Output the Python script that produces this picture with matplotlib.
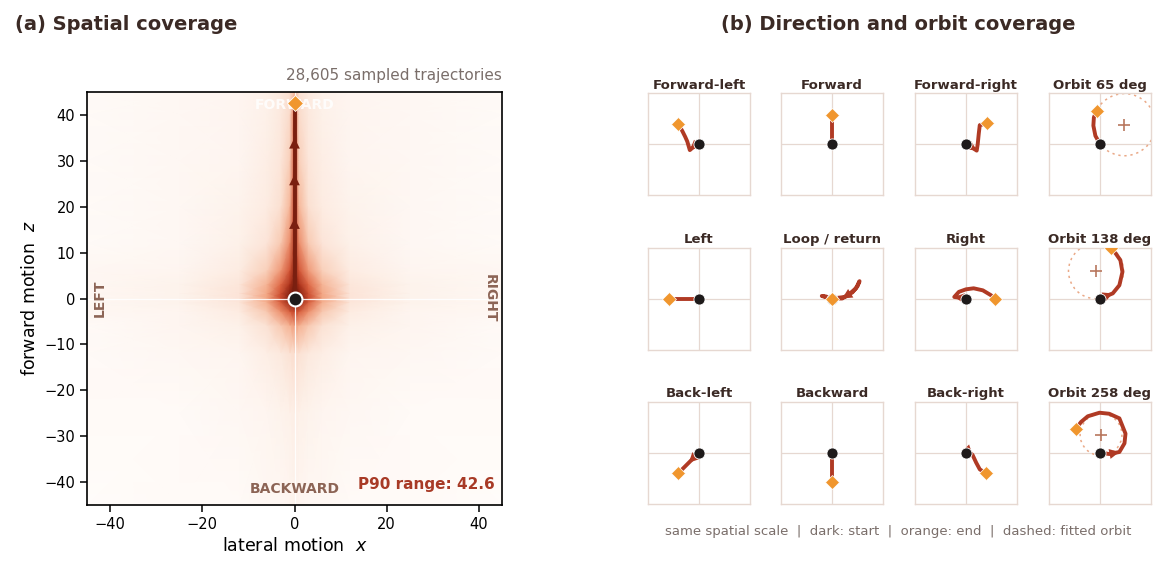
import numpy as np
import matplotlib
matplotlib.use("Agg")
import matplotlib.pyplot as plt
from matplotlib.colors import LinearSegmentedColormap
from matplotlib.patches import Circle

# --- panel (a): density of end positions (estimated intensity, 0 = empty, 1 = densest)
grid_x = [-45, -25, -12, -6, -3, -1, 0, 1, 3, 6, 12, 25, 45]
grid_z = [45, 40, 30, 20, 12, 6, 3, 1, 0, -1, -3, -6, -12, -25, -45]
density = [
    [0.01, 0.02, 0.03, 0.05, 0.08, 0.12, 0.25, 0.12, 0.08, 0.05, 0.03, 0.02, 0.01],
    [0.01, 0.02, 0.03, 0.05, 0.08, 0.14, 0.50, 0.14, 0.08, 0.05, 0.03, 0.02, 0.01],
    [0.01, 0.02, 0.03, 0.06, 0.09, 0.18, 0.62, 0.18, 0.09, 0.06, 0.03, 0.02, 0.01],
    [0.01, 0.02, 0.04, 0.07, 0.12, 0.26, 0.70, 0.26, 0.12, 0.07, 0.04, 0.02, 0.01],
    [0.01, 0.02, 0.05, 0.10, 0.20, 0.40, 0.78, 0.40, 0.20, 0.10, 0.05, 0.02, 0.01],
    [0.02, 0.03, 0.07, 0.18, 0.36, 0.60, 0.87, 0.60, 0.36, 0.18, 0.07, 0.03, 0.02],
    [0.02, 0.04, 0.09, 0.27, 0.52, 0.76, 0.93, 0.76, 0.52, 0.27, 0.09, 0.04, 0.02],
    [0.02, 0.04, 0.10, 0.31, 0.62, 0.88, 0.98, 0.88, 0.62, 0.31, 0.10, 0.04, 0.02],
    [0.02, 0.04, 0.10, 0.32, 0.64, 0.90, 1.00, 0.90, 0.64, 0.32, 0.10, 0.04, 0.02],
    [0.02, 0.04, 0.09, 0.28, 0.55, 0.80, 0.92, 0.80, 0.55, 0.28, 0.09, 0.04, 0.02],
    [0.02, 0.03, 0.07, 0.20, 0.38, 0.55, 0.66, 0.55, 0.38, 0.20, 0.07, 0.03, 0.02],
    [0.01, 0.03, 0.05, 0.11, 0.20, 0.28, 0.34, 0.28, 0.20, 0.11, 0.05, 0.03, 0.01],
    [0.01, 0.02, 0.03, 0.06, 0.08, 0.11, 0.13, 0.11, 0.08, 0.06, 0.03, 0.02, 0.01],
    [0.01, 0.01, 0.02, 0.03, 0.04, 0.05, 0.06, 0.05, 0.04, 0.03, 0.02, 0.01, 0.01],
    [0.00, 0.01, 0.01, 0.02, 0.02, 0.03, 0.04, 0.03, 0.02, 0.02, 0.01, 0.01, 0.00],
]

mean_x = [0, 0, 0, 0, 0]
mean_z = [0, 10, 20, 30, 42.6]
arrow_z = [16.5, 26, 34]
n_traj = 28605
p90_range = 42.6

# --- panel (b): representative trajectories, same scale (panel half-width = 1)
panel_titles = ["Forward-left", "Forward", "Forward-right", "Orbit 65 deg",
                "Left", "Loop / return", "Right", "Orbit 138 deg",
                "Back-left", "Backward", "Back-right", "Orbit 258 deg"]
path_x = [
    [0, -0.10, -0.18, -0.23, -0.27, -0.33, -0.405],
    [0, 0, 0, 0],
    [0, 0.12, 0.21, 0.23, 0.25, 0.27, 0.41],
    [0, -0.09, -0.13, -0.12, -0.067],
    [0, -0.3, -0.59],
    [0, -0.12, -0.2, -0.1, 0, 0.25, 0.40, 0.50, 0.54, 0.47, 0.33, 0.2, 0],
    [0, -0.15, -0.23, -0.14, 0.0, 0.15, 0.33, 0.48, 0.575],
    [0, 0.25, 0.38, 0.44, 0.40, 0.31, 0.216],
    [0, -0.2, -0.41],
    [0, 0, 0],
    [0, 0.08, 0.13, 0.20, 0.27, 0.39],
    [0, 0.18, 0.38, 0.48, 0.50, 0.38, 0.18, -0.01, -0.24, -0.37, -0.47],
]
path_y = [
    [0, -0.05, -0.12, 0.05, 0.14, 0.26, 0.39],
    [0, 0.2, 0.4, 0.57],
    [0, -0.07, -0.13, 0.0, 0.20, 0.37, 0.405],
    [0, 0.16, 0.36, 0.52, 0.656],
    [0, 0, 0],
    [0, 0.04, 0.05, 0.02, 0, 0.03, 0.12, 0.24, 0.34, 0.20, 0.08, 0.0, 0],
    [0, 0.02, 0.03, 0.13, 0.18, 0.20, 0.16, 0.07, 0],
    [0, 0.10, 0.26, 0.52, 0.75, 0.88, 0.99],
    [0, -0.2, -0.41],
    [0, -0.3, -0.575],
    [0, 0.0, -0.05, -0.20, -0.33, -0.41],
    [0, -0.03, 0.01, 0.18, 0.37, 0.67, 0.76, 0.78, 0.71, 0.60, 0.47],
]
arrow_seg = [2, None, 2, None, None, 11, 2, 1, 1, None, 2, 2]
orbit_fit = {3: (0.477, 0.379, 0.61), 7: (-0.078, 0.536, 0.54), 11: (0.02, 0.35, 0.41)}

# colours
dark_text = "#3b2a25"
path_red = "#b03a24"
mean_red = "#7a1f10"
end_orange = "#f0962e"
start_black = "#1e1a1a"
frame_col = "#e6d8d1"
label_brown = "#8c6455"

cmap = LinearSegmentedColormap.from_list(
    "cov", [(0.0, "#fffcfa"), (0.05, "#fdf0e8"), (0.15, "#fad8c6"), (0.3, "#f4aa88"),
            (0.5, "#e26c48"), (0.7, "#bf3a20"), (0.85, "#8e2412"), (1.0, "#5a1208")])

fig = plt.figure(figsize=(11.6, 5.69), dpi=100)

# ---------------- panel (a)
ax = fig.add_axes([87 / 1160, 64 / 569, 415 / 1160, 413 / 569])
X, Z = np.meshgrid(grid_x, grid_z)
ax.pcolormesh(X, Z, np.array(density), cmap=cmap, vmin=0, vmax=1,
              shading="gouraud", rasterized=True)
ax.axhline(0, color="white", lw=0.9, alpha=0.9)
ax.axvline(0, color="white", lw=0.9, alpha=0.9)
ax.plot(mean_x, mean_z, color=mean_red, lw=2.8, solid_capstyle="butt", zorder=3)
for z in arrow_z:
    ax.annotate("", xy=(0, z + 1), xytext=(0, z - 1),
                arrowprops=dict(arrowstyle="-|>,head_width=0.35,head_length=0.7",
                                color=mean_red, lw=0, mutation_scale=11,
                                shrinkA=0, shrinkB=0), zorder=4)
ax.plot(mean_x[0], mean_z[0], "o", ms=10, color=start_black, mec="white", mew=1.5, zorder=5)
ax.plot(mean_x[-1], mean_z[-1], "D", ms=8, color=end_orange, mec="white", mew=0.6, zorder=5)
ax.text(0, 42.2, "FORWARD", color="white", fontsize=10, fontweight="bold",
        ha="center", va="center", alpha=0.85, zorder=4)
ax.text(0, -41.6, "BACKWARD", color=label_brown, fontsize=10, fontweight="bold",
        ha="center", va="center")
ax.text(-42.3, 0, "LEFT", color=label_brown, fontsize=10, fontweight="bold",
        ha="center", va="center", rotation=90)
ax.text(42.3, 0, "RIGHT", color=label_brown, fontsize=10, fontweight="bold",
        ha="center", va="center", rotation=-90)
ax.text(43.5, -40.6, f"P90 range: {p90_range:.1f}", color="#a83a26", fontsize=11,
        fontweight="bold", ha="right", va="center")
ax.set_xlim(-45, 45)
ax.set_ylim(-45, 45)
ax.set_xticks([-40, -20, 0, 20, 40])
ax.set_yticks([-40, -30, -20, -10, 0, 10, 20, 30, 40])
ax.tick_params(labelsize=10.5, length=5, width=1.1)
for s in ax.spines.values():
    s.set_linewidth(1.2)
ax.set_xlabel("lateral motion  $x$", fontsize=12.5)
ax.set_ylabel("forward motion  $z$", fontsize=12.5)
ax.set_title(f"{n_traj:,} sampled trajectories", loc="right", fontsize=11,
             color="#7a6e6a", pad=9)

fig.text(15 / 1160, 1 - 25 / 569, "(a) Spatial coverage", fontsize=14,
         fontweight="bold", color=dark_text, ha="left", va="center")
fig.text(898 / 1160, 1 - 25 / 569, "(b) Direction and orbit coverage", fontsize=14,
         fontweight="bold", color=dark_text, ha="center", va="center")

# ---------------- panel (b)
col_left = [648, 781, 915, 1049]
row_top = [93, 247.5, 401.5]
box = 102
for i, title in enumerate(panel_titles):
    r, c = divmod(i, 4)
    a = fig.add_axes([col_left[c] / 1160, (569 - row_top[r] - box) / 569, box / 1160, box / 569])
    a.set_xlim(-1, 1)
    a.set_ylim(-1, 1)
    a.set_xticks([])
    a.set_yticks([])
    for s in a.spines.values():
        s.set_color(frame_col)
        s.set_linewidth(1.0)
    a.axhline(0, color=frame_col, lw=0.9, zorder=0)
    a.axvline(0, color=frame_col, lw=0.9, zorder=0)
    if i in orbit_fit:
        cx, cy, rad = orbit_fit[i]
        a.add_patch(Circle((cx, cy), rad, fill=False, ls=(0, (1.5, 2.5)),
                           color="#eaa987", lw=1.1, zorder=1))
        a.plot(cx, cy, "+", ms=9, mew=1.2, color="#b8775e", zorder=2)
    px, py = path_x[i], path_y[i]
    a.plot(px, py, color=path_red, lw=2.8, solid_capstyle="round",
           solid_joinstyle="round", zorder=3)
    k = arrow_seg[i]
    if k is not None:
        a.annotate("", xy=(px[k], py[k]), xytext=(px[k - 1], py[k - 1]),
                   arrowprops=dict(arrowstyle="-|>,head_width=0.4,head_length=0.8",
                                   color=path_red, lw=0, mutation_scale=9,
                                   shrinkA=0, shrinkB=0), zorder=4)
    a.plot(px[0], py[0], "o", ms=8, color=start_black, mec="white", mew=0.6, zorder=5)
    a.plot(px[-1], py[-1], "D", ms=7.5, color=end_orange, mec="white", mew=0.5, zorder=6)
    a.set_title(title, fontsize=9.5, fontweight="bold", color=dark_text, pad=3)

fig.text(898 / 1160, 1 - 531 / 569,
         "same spatial scale  |  dark: start  |  orange: end  |  dashed: fitted orbit",
         fontsize=9.5, color="#7a6e6a", ha="center", va="center")

fig.savefig("out.png", dpi=100)
